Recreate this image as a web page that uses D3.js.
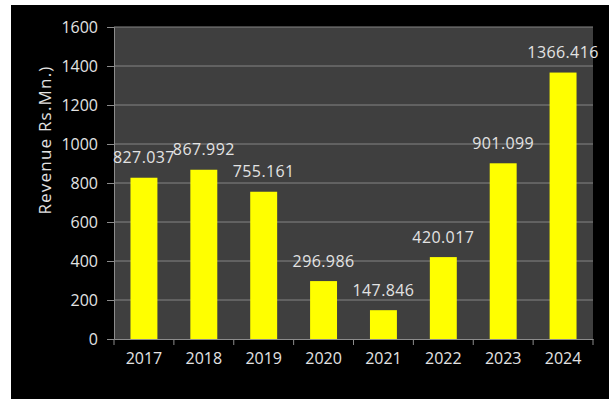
<!DOCTYPE html>
<html lang="en">
<head>
    <meta charset="UTF-8">
    <title>Revenue Chart</title>
    <style>
        body {
            margin: 0;
            background: #fff;
        }
        svg text {
            font-family: "Open Sans", Arial, sans-serif;
            fill: #e3e3e3;
        }
    </style>
</head>
<body>
<svg id="chart" width="609" height="399"></svg>

<script src="https://cdn.jsdelivr.net/npm/d3@7"></script>
<script>
  const years = ['2017', '2018', '2019', '2020', '2021', '2022', '2023', '2024'];
  const revenue = [827.037, 867.992, 755.161, 296.986, 147.846, 420.017, 901.099, 1366.416];
  const yTicks = [0, 200, 400, 600, 800, 1000, 1200, 1400, 1600];

  const svg = d3.select('#chart');
  const plot = { left: 114, right: 593, top: 27, bottom: 339 };

  // black panel behind the chart
  svg.append('rect')
    .attr('x', 11).attr('y', 5)
    .attr('width', 609 - 11).attr('height', 399 - 5)
    .attr('fill', '#000');

  const x = d3.scaleBand()
    .domain(years)
    .range([plot.left, plot.right])
    .paddingInner(0.55)
    .paddingOuter(0.275);

  const y = d3.scaleLinear()
    .domain([0, 1600])
    .range([plot.bottom, plot.top]);

  svg.append('rect')
    .attr('x', plot.left).attr('y', plot.top)
    .attr('width', plot.right - plot.left)
    .attr('height', plot.bottom - plot.top)
    .attr('fill', '#3f3f3f');

  // gridlines
  svg.append('g')
    .selectAll('line')
    .data(yTicks.filter(d => d > 0))
    .enter().append('line')
    .attr('x1', plot.left).attr('x2', plot.right)
    .attr('y1', d => y(d)).attr('y2', d => y(d))
    .attr('stroke', '#858585')
    .attr('stroke-width', 1);

  // y axis
  const yAxis = svg.append('g')
    .attr('transform', `translate(${plot.left},0)`)
    .call(d3.axisLeft(y).tickValues(yTicks).tickFormat(d3.format('d')).tickSize(7).tickPadding(9));
  yAxis.select('.domain').attr('stroke', '#8c8c8c');
  yAxis.selectAll('.tick line').attr('stroke', '#8c8c8c');
  yAxis.selectAll('text')
    .style('font-size', '16px')
    .attr('fill', '#e3e3e3');

  // x axis with ticks at band edges
  const xAxis = svg.append('g')
    .attr('transform', `translate(0,${plot.bottom})`)
    .call(d3.axisBottom(x).tickSize(0).tickPadding(14));
  xAxis.select('.domain').attr('stroke', '#8c8c8c');
  xAxis.selectAll('text')
    .style('font-size', '16px')
    .attr('fill', '#e3e3e3');
  const step = x.step();
  xAxis.selectAll('line.edge')
    .data(d3.range(years.length + 1))
    .enter().append('line')
    .attr('class', 'edge')
    .attr('x1', i => plot.left + i * step).attr('x2', i => plot.left + i * step)
    .attr('y1', 0).attr('y2', 6)
    .attr('stroke', '#8c8c8c');

  // bars
  svg.append('g')
    .selectAll('rect')
    .data(revenue)
    .enter().append('rect')
    .attr('x', (d, i) => x(years[i]))
    .attr('y', d => y(d))
    .attr('width', x.bandwidth())
    .attr('height', d => plot.bottom - y(d))
    .attr('fill', '#ffff00');

  // value labels
  svg.append('g')
    .selectAll('text')
    .data(revenue)
    .enter().append('text')
    .attr('x', (d, i) => x(years[i]) + x.bandwidth() / 2)
    .attr('y', d => y(d) - 14.5)
    .attr('text-anchor', 'middle')
    .style('font-size', '16px')
    .style('letter-spacing', '0.4px')
    .text(d => d3.format('.3f')(d));

  // axis title
  svg.append('text')
    .attr('transform', 'translate(51,140) rotate(-90)')
    .attr('text-anchor', 'middle')
    .style('font-size', '17px')
    .style('letter-spacing', '1.2px')
    .text('Revenue Rs.Mn.)');
</script>
</body>
</html>
